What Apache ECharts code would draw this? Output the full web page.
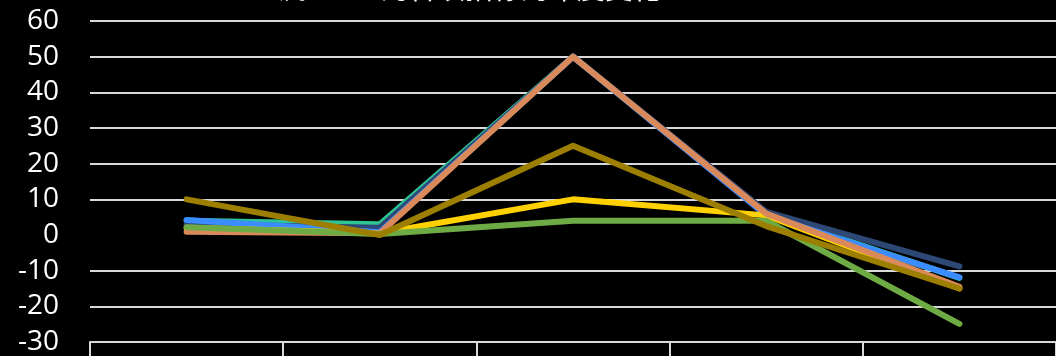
<!DOCTYPE html>
<html><head><meta charset="utf-8">
<script src="https://cdn.jsdelivr.net/npm/echarts@6/dist/echarts.min.js"></script>
<style>html,body{margin:0;padding:0;background:#000;}#c{width:1056px;height:356px;}</style>
</head><body><div id="c"></div>
<script>
const categories = ['1', '2', '3', '4', '5'];
const seriesNames = ['系列1', '系列2', '系列3', '系列4', '系列5', '系列6', '系列7'];
const tealValues   = [4, 3, 50, 6, -12];
const navyValues   = [3, 2, 50, 6.5, -8.8];
const blueValues   = [4.2, 0.8, 50, 5.5, -11.9];
const yellowValues = [2, 0.5, 10, 5.5, -15];
const orangeValues = [0.9, 0.5, 50, 6, -14.5];
const greenValues  = [2.2, 0.3, 4, 4, -24.9];
const oliveValues  = [10, 0, 25, 2.5, -15];
const yTicks = [-30, -20, -10, 0, 10, 20, 30, 40, 50, 60];
const seriesColors = ['#2EC495', '#2D4874', '#3B8CFF', '#FFD100', '#DA8A5A', '#6FAB45', '#9C7F00'];
const allValues = [tealValues, navyValues, blueValues, yellowValues, orangeValues, greenValues, oliveValues];

const gridColors = yTicks.map(v => v === 0 ? 'rgba(0,0,0,0)' : '#D9D9D9');

const chart = echarts.init(document.getElementById('c'));
chart.setOption({
  backgroundColor: '#000',
  animation: false,
  title: {
    text: '三流 2019 的各项指标的年度变化',
    left: 245, top: -31,
    textStyle: { color: '#fff', fontSize: 28, fontWeight: 'normal', fontFamily: 'Noto Sans CJK SC' }
  },
  grid: { left: 90, right: -1, top: 21, bottom: 11, containLabel: false },
  xAxis: {
    type: 'category', data: categories, boundaryGap: true,
    axisLine: { onZero: false, lineStyle: { color: '#D9D9D9', width: 2 } },
    axisTick: { show: true, length: 14, lineStyle: { color: '#D9D9D9', width: 2 } },
    axisLabel: { show: false },
    splitLine: { show: false }
  },
  yAxis: {
    type: 'value', min: -30, max: 60, interval: 10,
    axisLine: { show: false }, axisTick: { show: false },
    axisLabel: { color: '#fff', fontSize: 28, fontFamily: 'Open Sans', margin: 31 },
    splitLine: { lineStyle: { color: gridColors, width: 2 } }
  },
  series: seriesNames.map((n, i) => ({
    name: n, type: 'line', data: allValues[i], symbol: 'none',
    lineStyle: { color: seriesColors[i], width: 6, cap: 'round', join: 'round' },
    itemStyle: { color: seriesColors[i] },
    z: 2 + i
  }))
});
</script></body></html>
